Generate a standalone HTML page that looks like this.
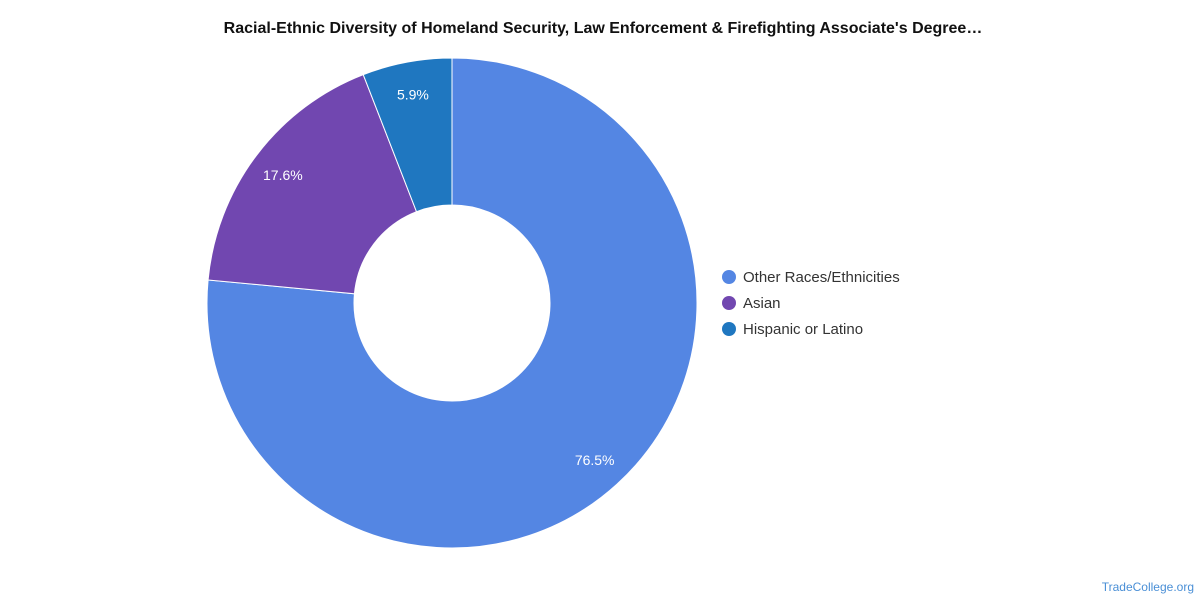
<!DOCTYPE html>
<html><head><meta charset="utf-8"><style>
html,body{margin:0;padding:0;background:#fff;width:1200px;height:600px;overflow:hidden}
svg{display:block;font-family:"Liberation Sans",Arial,sans-serif}
</style></head><body>
<svg id="chart" width="1200" height="600">
<text x="603" y="33" text-anchor="middle" font-size="16" font-weight="bold" fill="#111">Racial-Ethnic Diversity of Homeland Security, Law Enforcement &amp; Firefighting Associate's Degree…</text>
<g id="slices"></g>
<g id="labels"></g>
<g id="legend"></g>
<text x="1194" y="591" text-anchor="end" font-size="12" fill="#4a8fd6">TradeCollege.org</text>
</svg>
<script>
const categories = ["Other Races/Ethnicities", "Asian", "Hispanic or Latino"];
const values = [76.5, 17.6, 5.9];
const colors = ["#5486e3", "#7147b0", "#1f77c0"];
const cx = 452, cy = 303, R = 245, r = 98, LR = 212;
const ns = "http://www.w3.org/2000/svg";
const total = values.reduce((a, b) => a + b, 0);
function pt(rad, a) { return [cx + rad * Math.sin(a), cy - rad * Math.cos(a)]; }
let start = 0;
const sg = document.getElementById("slices"), lg = document.getElementById("labels"), leg = document.getElementById("legend");
values.forEach((v, i) => {
  const sweep = v / total * 2 * Math.PI, end = start + sweep;
  const large = sweep > Math.PI ? 1 : 0;
  const [x1, y1] = pt(R, start), [x2, y2] = pt(R, end), [x3, y3] = pt(r, end), [x4, y4] = pt(r, start);
  const p = document.createElementNS(ns, "path");
  p.setAttribute("d", `M${x1},${y1} A${R},${R} 0 ${large} 1 ${x2},${y2} L${x3},${y3} A${r},${r} 0 ${large} 0 ${x4},${y4} Z`);
  p.setAttribute("fill", colors[i]);
  p.setAttribute("stroke", "#fff");
  p.setAttribute("stroke-width", "1");
  
  
  sg.appendChild(p);
  const [lx, ly] = pt(LR, start + sweep / 2);
  const t = document.createElementNS(ns, "text");
  t.setAttribute("x", lx); t.setAttribute("y", ly + 5);
  t.setAttribute("text-anchor", "middle"); t.setAttribute("font-size", "14"); t.setAttribute("fill", "#fff");
  t.textContent = v.toFixed(1) + "%";
  
  
  lg.appendChild(t);
  const c = document.createElementNS(ns, "circle");
  c.setAttribute("cx", 729); c.setAttribute("cy", 277 + i * 26); c.setAttribute("r", 7); c.setAttribute("fill", colors[i]);
  
  
  leg.appendChild(c);
  const lt = document.createElementNS(ns, "text");
  lt.setAttribute("x", 743); lt.setAttribute("y", 282 + i * 26); lt.setAttribute("font-size", "15"); lt.setAttribute("fill", "#333");
  lt.textContent = categories[i];
  
  
  leg.appendChild(lt);
  start = end;
});
</script>
</body></html>
